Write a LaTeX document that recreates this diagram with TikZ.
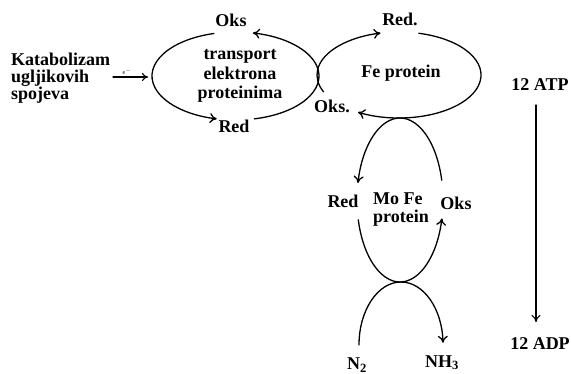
\documentclass[tikz,border=0pt]{standalone}
\usepackage{fontspec}
\setmainfont{Liberation Serif}
\usetikzlibrary{arrows.meta,calc}
\begin{document}
\begin{tikzpicture}[x=1pt,y=-1pt,
  curve/.style={line width=1.3pt, line cap=round},
  arr/.style={curve, -{To[length=7pt,width=10pt,line width=1.3pt]}},
  lbl/.style={font=\fontsize{18}{20}\selectfont\bfseries, inner sep=0pt, anchor=base},
  tiny/.style={font=\fontsize{6}{7}\selectfont, inner sep=0pt},
]
\useasboundingbox (0,0) rectangle (571,374);
% ellipse centres
\coordinate (L) at (235.5,76);
\coordinate (F) at (399,75);
\coordinate (M) at (400,200);
\coordinate (N) at (401,345);

% left ellipse: transport elektrona proteinima
\draw[arr] ($(L)+(77:83.5 and 44)$) arc[start angle=77, end angle=-78, x radius=83.5, y radius=44];
\draw[arr] ($(L)+(255:83.5 and 44)$) arc[start angle=255, end angle=103, x radius=83.5, y radius=44];

% Fe protein ellipse
\draw[arr] ($(F)+(157:82 and 43)$) arc[start angle=157, end angle=257, x radius=82, y radius=43];
\draw[arr] ($(F)+(284:82 and 43)$) arc[start angle=284, end angle=480, x radius=82, y radius=43];

% Mo Fe protein ellipse
\draw[arr] ($(M)+(346:43 and 82)$) arc[start angle=346, end angle=192, x radius=43, y radius=82];
\draw[arr] ($(M)+(166:43 and 82)$) arc[start angle=166, end angle=13, x radius=43, y radius=82];

% N2 -> NH3 arch
\draw[arr] ($(N)+(180:42 and 63)$) arc[start angle=180, end angle=358, x radius=42, y radius=63];

% labels
\node[lbl, anchor=base west] (kat1) at (11,66) {Katabolizam};
\node[lbl, anchor=base west] (kat2) at (11,83) {ugljikovih};
\node[lbl, anchor=base west] (kat3) at (11,100) {spojeva};
\coordinate (ein) at (113,77);
\coordinate (eout) at (148,77);
\draw[curve, line width=1.1pt, -{To[length=6pt,width=8pt,line width=1.1pt]}] (ein) -- (eout);
\node[tiny] (e) at (127,72) {e$^{-}$};

\node[lbl] (oks1) at (231,27) {Oks};
\node[lbl] (red1) at (234,133) {Red};
\node[lbl] (tr1) at (240,60) {transport};
\node[lbl] (tr2) at (240,80) {elektrona};
\node[lbl] (tr3) at (240,99) {proteinima};

\node[lbl] (red2) at (400,26) {Red.};
\node[lbl] (fe) at (401,78) {Fe protein};
\node[lbl] (oks2) at (332,113) {Oks.};

\node[lbl] (red3) at (343,208) {Red};
\node[lbl] (oks3) at (456,210) {Oks};
\node[lbl, anchor=base west] (mo1) at (373,205) {Mo Fe};
\node[lbl, anchor=base west] (mo2) at (373,223) {protein};

\node[lbl] (n2) at (357,370) {N\textsubscript{2}};
\node[lbl] (nh3) at (442,367) {NH\textsubscript{3}};

\node[lbl] (atp) at (540,91) {12 ATP};
\node[lbl] (adp) at (540,350) {12 ADP};
\coordinate (atpa) at (536,105);
\coordinate (adpa) at (536,322);
\draw[curve, line width=1.1pt, -{To[length=7pt,width=9pt,line width=1.1pt]}] (atpa) -- (adpa);
\end{tikzpicture}
\end{document}
